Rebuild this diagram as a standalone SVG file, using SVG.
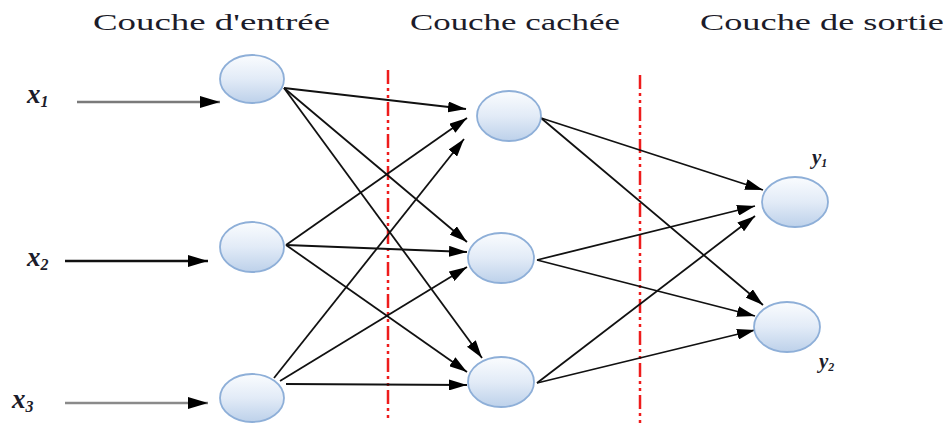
<svg xmlns="http://www.w3.org/2000/svg" width="946" height="425" viewBox="0 0 946 425">
  <defs>
    <linearGradient id="nodeFill" x1="0" y1="0" x2="0" y2="1">
      <stop offset="0" stop-color="#fafcfe"/>
      <stop offset="0.5" stop-color="#e2ebf7"/>
      <stop offset="1" stop-color="#bdd1ea"/>
    </linearGradient>
    <marker id="arrow" markerUnits="userSpaceOnUse" markerWidth="18" markerHeight="11" refX="18" refY="5.5" orient="auto">
      <path d="M0,0 L18,5.5 L0,11 z" fill="#000"/>
    </marker>
    <marker id="arrowBig" markerUnits="userSpaceOnUse" markerWidth="20" markerHeight="12" refX="20" refY="6" orient="auto">
      <path d="M0,0 L20,6 L0,12 z" fill="#000"/>
    </marker>
  </defs>
  <style>
    .node { fill: url(#nodeFill); stroke: #8eafd8; stroke-width: 1.8; }
    .title { font-family: "Liberation Serif", "DejaVu Serif", serif; font-size: 23px; fill: #1c1c2a; }
    .var { font-family: "Liberation Serif", "DejaVu Serif", serif; font-style: italic; font-weight: bold; fill: #1c1c2a; }
    .edge { stroke: #111; stroke-width: 1.8; fill: none; marker-end: url(#arrow); }
    .input { stroke-width: 2.5; fill: none; marker-end: url(#arrowBig); }
    .sep { stroke: #ee1c1c; stroke-width: 2.5; stroke-dasharray: 14 4 3 4 3 4; fill: none; }
  </style>

  <!-- layer titles -->
  <text class="title" x="93" y="30" textLength="237" lengthAdjust="spacingAndGlyphs">Couche d'entrée</text>
  <text class="title" x="410" y="30" textLength="210" lengthAdjust="spacingAndGlyphs">Couche cachée</text>
  <text class="title" x="700" y="30" textLength="244" lengthAdjust="spacingAndGlyphs">Couche de sortie</text>

  <!-- layer separators -->
  <g id="separators">
    <line class="sep" x1="388" y1="70" x2="388" y2="422"/>
    <line class="sep" x1="640" y1="75" x2="640" y2="425"/>
  </g>

  <!-- connectors -->
  <g id="connectors">
    <line class="input" x1="77" y1="102" x2="220" y2="102" stroke="#7a7a7a"/>
    <line class="input" x1="65" y1="261" x2="208" y2="261" stroke="#111"/>
    <line class="input" x1="65" y1="403" x2="208" y2="403" stroke="#8a8a8a"/>

    <line class="edge" x1="284" y1="88" x2="466" y2="109"/>
    <line class="edge" x1="284" y1="88" x2="467" y2="242"/>
    <line class="edge" x1="284" y1="88" x2="482" y2="358"/>

    <line class="edge" x1="286" y1="245" x2="467" y2="118"/>
    <line class="edge" x1="286" y1="245" x2="467" y2="252"/>
    <line class="edge" x1="286" y1="245" x2="467" y2="372"/>

    <line class="edge" x1="274" y1="378" x2="464" y2="139"/>
    <line class="edge" x1="280" y1="381" x2="467" y2="267"/>
    <line class="edge" x1="286" y1="384" x2="467" y2="385" stroke="#777"/>

    <line class="edge" x1="541" y1="118" x2="763" y2="190"/>
    <line class="edge" x1="541" y1="118" x2="763" y2="305"/>
    <line class="edge" x1="537" y1="260" x2="755" y2="206"/>
    <line class="edge" x1="537" y1="260" x2="755" y2="316"/>
    <line class="edge" x1="537" y1="383" x2="755" y2="216"/>
    <line class="edge" x1="537" y1="383" x2="755" y2="330"/>
  </g>

  <!-- input layer -->
  <g id="in1">
    <ellipse class="node" cx="252" cy="79" rx="32" ry="24"/>
    <text class="var" x="27" y="103" font-size="27">x<tspan font-size="16" dy="4">1</tspan></text>
  </g>
  <g id="in2">
    <ellipse class="node" cx="252" cy="247" rx="32" ry="25"/>
    <text class="var" x="27" y="266" font-size="27">x<tspan font-size="16" dy="4">2</tspan></text>
  </g>
  <g id="in3">
    <ellipse class="node" cx="252" cy="398" rx="32" ry="24"/>
    <text class="var" x="12" y="408" font-size="27">x<tspan font-size="16" dy="4">3</tspan></text>
  </g>

  <!-- hidden layer -->
  <g id="h1"><ellipse class="node" cx="509" cy="116" rx="32" ry="25"/></g>
  <g id="h2"><ellipse class="node" cx="501" cy="258" rx="33" ry="25"/></g>
  <g id="h3"><ellipse class="node" cx="501" cy="382" rx="33" ry="25"/></g>

  <!-- output layer -->
  <g id="out1">
    <ellipse class="node" cx="795" cy="202" rx="33" ry="25"/>
    <text class="var" x="812" y="164" font-size="21">y<tspan font-size="12" dy="3">1</tspan></text>
  </g>
  <g id="out2">
    <ellipse class="node" cx="787" cy="327" rx="33" ry="25"/>
    <text class="var" x="819" y="368" font-size="21">y<tspan font-size="12" dy="3">2</tspan></text>
  </g>
</svg>
